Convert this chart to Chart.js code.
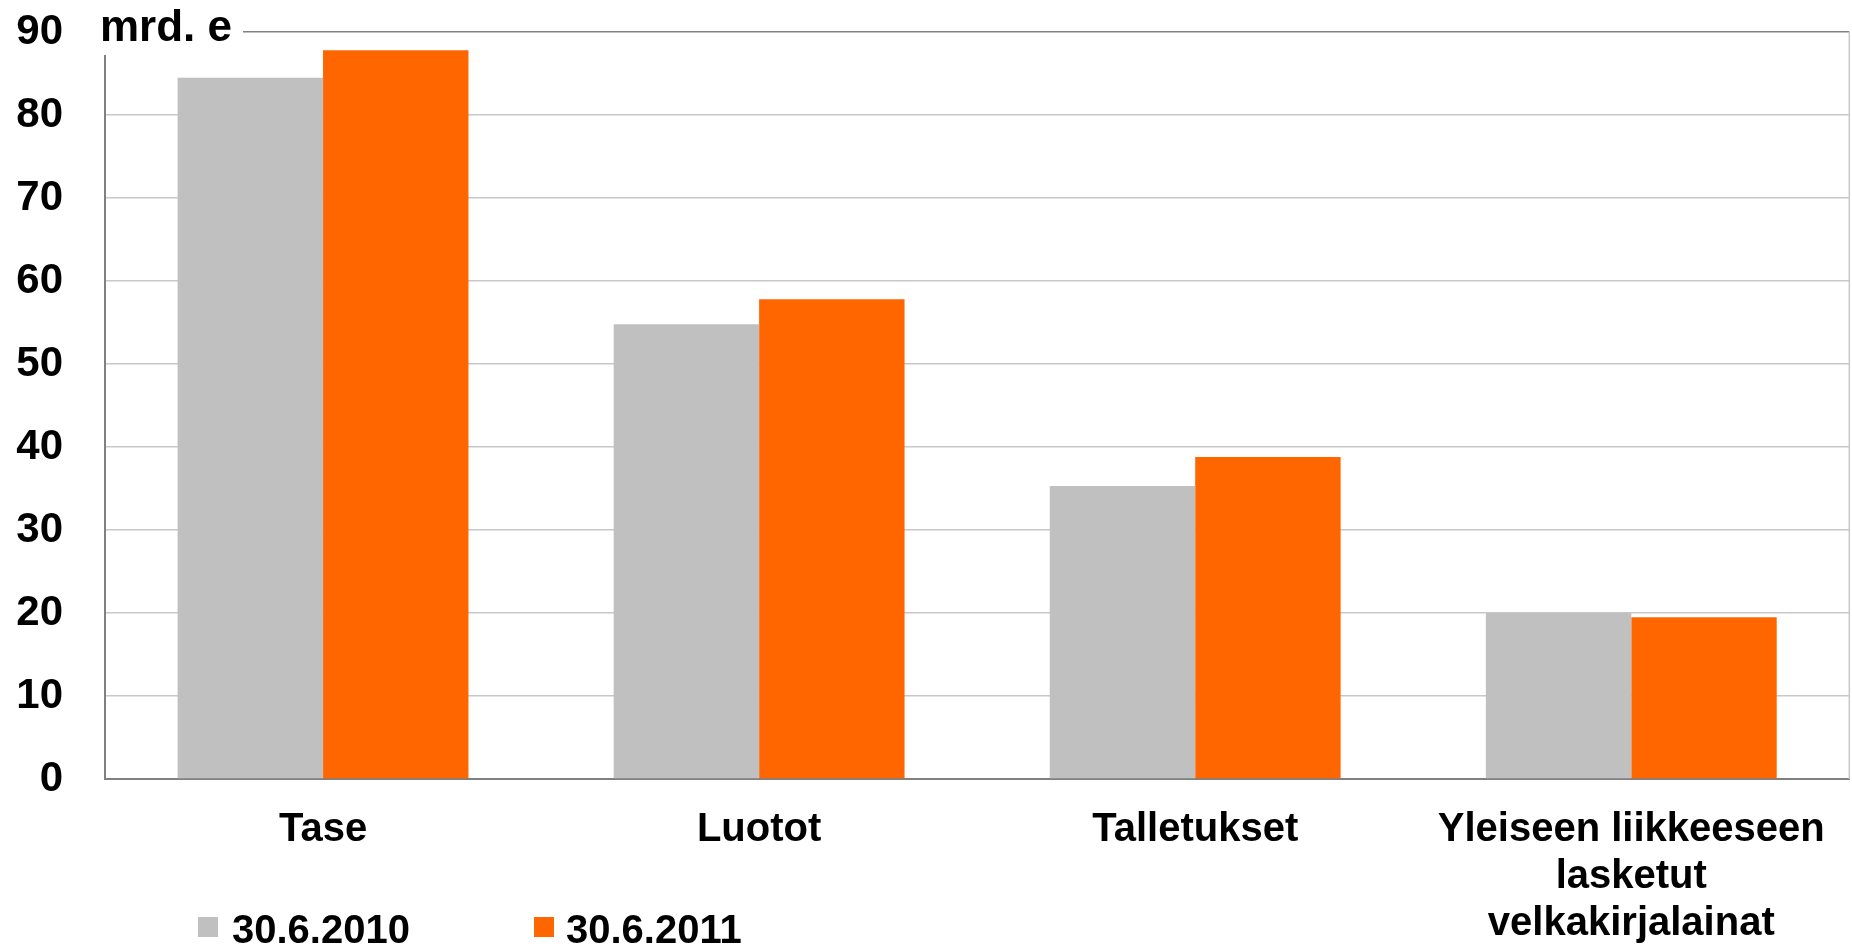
<!DOCTYPE html>
<html>
<head>
<meta charset="utf-8">
<script src="https://cdn.jsdelivr.net/npm/chart.js@4/dist/chart.umd.min.js"></script>
<style>
  html, body { margin: 0; padding: 0; background: #ffffff; }
  #wrap { width: 1852px; height: 949px; }
</style>
</head>
<body>
<div id="wrap"><canvas id="c" width="1852" height="949"></canvas></div>
<script>
const categories = ['Tase', 'Luotot', 'Talletukset', ['Yleiseen liikkeeseen', 'lasketut', 'velkakirjalainat']];
const seriesLabels = ['30.6.2010', '30.6.2011'];
const values2010 = [84.5, 54.8, 35.3, 20.0];
const values2011 = [87.8, 57.8, 38.8, 19.5];
const yMin = 0;
const yMax = 90;
const yStep = 10;
const unitLabel = 'mrd. e';

const FONT = '"Liberation Sans", Arial, sans-serif';

const overlayPlugin = {
  id: 'overlay',
  afterDraw(chart) {
    const ctx = chart.ctx;
    const area = chart.chartArea;
    ctx.save();
    // right border of plot area
    ctx.strokeStyle = '#c8c8c8';
    ctx.lineWidth = 1.5;
    ctx.beginPath();
    ctx.moveTo(area.right, area.top);
    ctx.lineTo(area.right, area.bottom);
    ctx.stroke();
    // unit label with white background
    ctx.fillStyle = '#ffffff';
    ctx.fillRect(92, 0, 151, 55);
    ctx.fillStyle = '#000000';
    ctx.font = 'bold 44px ' + FONT;
    ctx.textAlign = 'left';
    ctx.textBaseline = 'alphabetic';
    ctx.fillText(unitLabel, 100, 41);
    // legend
    ctx.font = 'bold 40px ' + FONT;
    const items = [{ box: 198, text: 232 }, { box: 534, text: 566 }];
    chart.data.datasets.forEach((ds, i) => {
      const it = items[i];
      ctx.fillStyle = ds.backgroundColor;
      ctx.fillRect(it.box, 917, 20, 20);
      ctx.fillStyle = '#000000';
      ctx.fillText(ds.label, it.text, 943);
    });
    ctx.restore();
  }
};

new Chart(document.getElementById('c'), {
  type: 'bar',
  data: {
    labels: categories,
    datasets: [
      { label: seriesLabels[0], data: values2010, backgroundColor: '#c0c0c0' },
      { label: seriesLabels[1], data: values2011, backgroundColor: '#ff6600' }
    ]
  },
  options: {
    responsive: false,
    animation: false,
    devicePixelRatio: 1,
    layout: { padding: { top: 32, right: 2, bottom: 0, left: 0 } },
    datasets: { bar: { categoryPercentage: 0.667, barPercentage: 1.0 } },
    plugins: { legend: { display: false }, tooltip: { enabled: false } },
    scales: {
      x: {
        grid: { display: false, drawTicks: false },
        border: { display: true, color: '#808080', width: 2 },
        ticks: {
          color: '#000000',
          padding: 27,
          maxRotation: 0,
          autoSkip: false,
          font: { family: FONT, size: 40, weight: 'bold', lineHeight: 1.175 }
        },
        afterFit(scale) { scale.height = 170; }
      },
      y: {
        min: yMin,
        max: yMax,
        grid: {
          drawTicks: true,
          tickLength: 42,
          tickColor: 'rgba(0,0,0,0)',
          lineWidth: 1.5,
          color: (c) => (c.tick && c.tick.value === yMax) ? '#808080' : '#c8c8c8'
        },
        border: { display: true, color: '#808080', width: 2 },
        ticks: {
          stepSize: yStep,
          color: '#000000',
          padding: 0,
          font: { family: FONT, size: 42, weight: 'bold' }
        },
        afterFit(scale) { scale.width = 105; }
      }
    }
  },
  plugins: [overlayPlugin]
});
</script>
</body>
</html>
